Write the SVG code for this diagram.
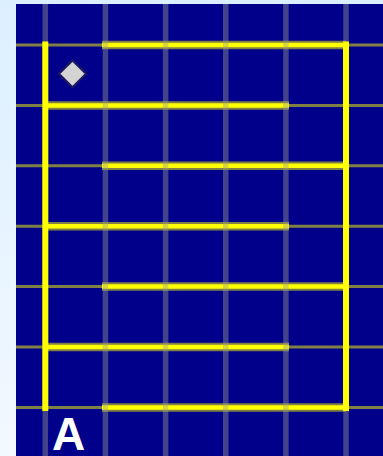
<svg xmlns="http://www.w3.org/2000/svg" width="383" height="456" viewBox="0 0 383 456">
  <defs>
    <linearGradient id="bg" x1="0" y1="0" x2="0" y2="1">
      <stop offset="0" stop-color="#dcefff"/>
      <stop offset="1" stop-color="#f2f9ff"/>
    </linearGradient>
    <style>
      .gh { stroke: #ffff00; stroke-opacity: 0.5; stroke-width: 3; fill: none; }
      .gv { stroke: #a0a090; stroke-opacity: 0.42; stroke-width: 5.5; fill: none; }
      .halo { stroke: #ffff00; stroke-opacity: 0.5; stroke-width: 8.5; fill: none; }
      .core { stroke: #ffff00; stroke-width: 4.5; fill: none; }
      .vcore { stroke: #ffff00; stroke-width: 6; fill: none; }
      .label { font-family: "Liberation Sans", Arial, sans-serif; font-weight: bold; fill: #ffffff; }
    </style>
  </defs>

  <rect x="0" y="0" width="383" height="456" fill="url(#bg)"/>
  <rect x="16" y="4" width="367" height="452" fill="#00008b"/>

  <g id="grid-horizontal">
    <line class="gh" x1="16" y1="45" x2="383" y2="45"/>
    <line class="gh" x1="16" y1="105.4" x2="383" y2="105.4"/>
    <line class="gh" x1="16" y1="165.8" x2="383" y2="165.8"/>
    <line class="gh" x1="16" y1="226.2" x2="383" y2="226.2"/>
    <line class="gh" x1="16" y1="286.6" x2="383" y2="286.6"/>
    <line class="gh" x1="16" y1="347" x2="383" y2="347"/>
    <line class="gh" x1="16" y1="407.4" x2="383" y2="407.4"/>
  </g>

  <g id="connectors">
    <g id="path-horizontal">
      <path class="halo" d="M102 45H346M45 105.4H289M102 165.8H346M45 226.2H289M102 286.6H346M45 347H289M102 407.4H346"/>
      <path class="core" d="M102 45H346M45 105.4H289M102 165.8H346M45 226.2H289M102 286.6H346M45 347H289M102 407.4H346"/>
    </g>
  </g>

  <g id="grid-vertical">
    <line class="gv" x1="45.3" y1="4" x2="45.3" y2="456"/>
    <line class="gv" x1="105.45" y1="4" x2="105.45" y2="456"/>
    <line class="gv" x1="165.6" y1="4" x2="165.6" y2="456"/>
    <line class="gv" x1="225.75" y1="4" x2="225.75" y2="456"/>
    <line class="gv" x1="285.9" y1="4" x2="285.9" y2="456"/>
    <line class="gv" x1="346.05" y1="4" x2="346.05" y2="456"/>
  </g>

  <g id="connectors-vertical">
    <path class="vcore" d="M45.3 41.5V411M346 41.5V411"/>
  </g>

  <g id="start">
    <polygon points="72.5,60.5 86,73.8 72.5,87.3 59,73.8" fill="#d4d4d4" stroke="#1c1c5e" stroke-width="2" stroke-linejoin="round"/>
  </g>

  <g id="label-a">
    <text class="label" x="68.5" y="450" font-size="46" text-anchor="middle">A</text>
  </g>
</svg>
